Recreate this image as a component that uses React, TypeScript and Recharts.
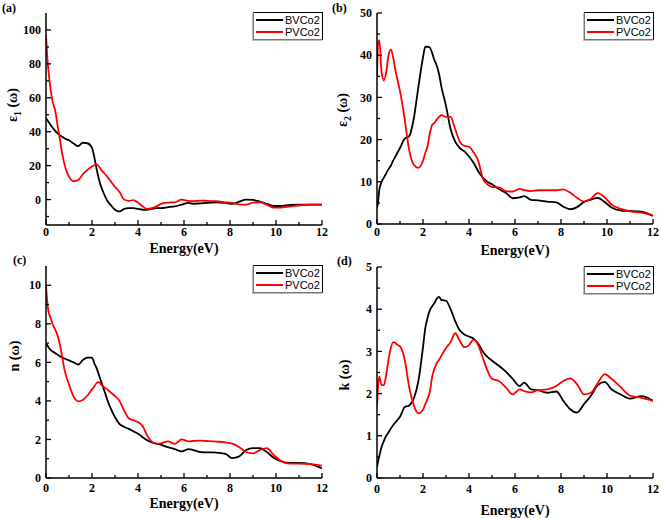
import React from 'react';
import { LineChart, Line, XAxis, YAxis, Legend, Label } from 'recharts';

const energy = [0, 0.05, 0.1, 0.2, 0.3, 0.4, 0.5, 0.6, 0.7, 0.8, 0.9, 1.0, 1.2, 1.4, 1.6, 1.8, 2.0, 2.1, 2.2, 2.3, 2.4, 2.5, 2.6, 2.7, 2.8, 3.0, 3.2, 3.4, 3.6, 3.8, 4.0, 4.2, 4.4, 4.6, 4.8, 5.0, 5.3, 5.6, 5.9, 6.2, 6.4, 6.7, 7.0, 7.4, 7.8, 8.1, 8.4, 8.7, 9.0, 9.3, 9.6, 9.9, 10.2, 10.6, 11.0, 11.5, 12.0];

const eps1BVCo2 = [48, 47, 46, 44, 42.2, 40.5, 39, 38, 37, 36.2, 35.5, 35, 33, 31.5, 33.5, 33.2, 30.5, 25, 18, 12, 7.5, 4, 1, -1.5, -3, -6, -7, -5.5, -5, -5, -5.5, -6, -6, -5.5, -5, -5, -4.5, -4, -3, -2, -2.5, -2.2, -2, -1.6, -2, -2.6, -1.2, 0, -0.2, -1.2, -2.5, -3.8, -3.8, -3.2, -3, -3, -3];
const eps1PVCo2 = [97, 85, 77, 65, 57, 52.5, 44, 36, 27.5, 21, 16.5, 13.5, 10.8, 11.5, 14.8, 17.5, 19.5, 20.2, 20.7, 19.5, 17.5, 16, 14.5, 12.8, 11, 7.5, 4.5, 0, -0.8, -0.3, -1.8, -4, -5.5, -5, -4, -2.5, -1.8, -1.6, 0, -0.8, -1, -0.6, -0.8, -1, -1.6, -2, -2.8, -3, -1.8, -1.6, -3, -4.8, -4.8, -4, -3.5, -3, -3];

const eps2BVCo2 = [3.7, 5.5, 8, 10, 11, 12, 13, 13.8, 15, 16, 17, 18, 20.2, 20.8, 25, 32.5, 39.5, 42, 42, 41.8, 40.5, 38.8, 37.5, 35.5, 32.5, 28, 22.5, 19.5, 18, 17.2, 16, 14.5, 12.5, 11, 10, 9.4, 8.3, 7.4, 6.1, 6.3, 6.6, 5.7, 5.6, 5.3, 5.1, 4.1, 3.5, 4.0, 5.2, 5.8, 6.2, 5.2, 3.9, 3.2, 3.1, 2.9, 1.9];
const eps2PVCo2 = [35, 43, 43.5, 36, 34, 36, 40, 41.4, 39.5, 36.5, 34, 31.5, 25, 17.5, 14, 13.3, 15, 16.8, 18.5, 21.5, 23.5, 24, 24.8, 25.4, 25.8, 25.4, 25.4, 22.5, 19.5, 18.5, 18.3, 17, 15, 10.8, 9.4, 8.8, 8.7, 7.8, 7.7, 8.3, 8.0, 7.8, 8.0, 8.0, 8.0, 8.2, 7.4, 6.2, 5.3, 6.0, 7.3, 6.3, 4.6, 3.6, 3.0, 2.7, 2.1];

const nBVCo2 = [6.97, 6.9, 6.8, 6.65, 6.55, 6.48, 6.4, 6.32, 6.25, 6.2, 6.15, 6.1, 6.0, 5.88, 6.12, 6.25, 6.25, 5.95, 5.7, 5.35, 5.0, 4.65, 4.3, 3.95, 3.65, 3.15, 2.8, 2.65, 2.55, 2.42, 2.3, 2.12, 1.96, 1.85, 1.78, 1.72, 1.6, 1.5, 1.38, 1.5, 1.45, 1.35, 1.33, 1.32, 1.25, 1.03, 1.12, 1.45, 1.55, 1.55, 1.35, 1.05, 0.88, 0.78, 0.78, 0.72, 0.5];
const nPVCo2 = [10, 9.2, 8.7, 8.3, 7.95, 7.7, 7.4, 6.95, 6.3, 5.65, 5.2, 4.85, 4.22, 3.98, 4.05, 4.28, 4.6, 4.75, 4.92, 4.97, 4.85, 4.74, 4.65, 4.55, 4.45, 4.25, 4.0, 3.5, 3.1, 3.0, 2.9, 2.7, 2.2, 1.88, 1.78, 1.8, 1.9, 1.77, 2.0, 1.9, 1.92, 1.94, 1.92, 1.89, 1.85, 1.78, 1.6, 1.35, 1.28, 1.45, 1.55, 1.2, 0.9, 0.75, 0.75, 0.72, 0.64];

const kBVCo2 = [0.25, 0.4, 0.52, 0.74, 0.88, 1.0, 1.08, 1.17, 1.25, 1.32, 1.38, 1.45, 1.68, 1.72, 1.88, 2.3, 3.1, 3.55, 3.8, 3.98, 4.07, 4.15, 4.25, 4.29, 4.22, 4.2, 4.0, 3.72, 3.5, 3.4, 3.35, 3.3, 3.18, 3.0, 2.87, 2.78, 2.66, 2.52, 2.35, 2.18, 2.26, 2.1, 2.08, 2.02, 2.05, 1.83, 1.63, 1.55, 1.75, 1.95, 2.2, 2.28, 2.1, 1.98, 1.88, 1.94, 1.83];
const kPVCo2 = [1.71, 2.2, 2.4, 2.2, 2.2, 2.45, 2.8, 3.08, 3.22, 3.2, 3.15, 3.12, 2.82, 2.15, 1.72, 1.53, 1.62, 1.75, 1.88, 2.05, 2.4, 2.6, 2.72, 2.8, 2.9, 3.08, 3.22, 3.43, 3.25, 3.1, 3.15, 3.28, 3.15, 2.85, 2.55, 2.35, 2.3, 2.15, 1.98, 2.1, 2.06, 2.03, 2.08, 2.1, 2.18, 2.3, 2.36, 2.22, 1.98, 2.02, 2.25, 2.46, 2.35, 2.15, 1.95, 1.9, 1.83];

const seriesNames = ['BVCo2', 'PVCo2'];
const seriesColors = ['#000000', '#ff0000'];

const energyTicks = [0, 1, 2, 3, 4, 5, 6, 7, 8, 9, 10, 11, 12];
const energyLabels = [0, 2, 4, 6, 8, 10, 12];
const eps1Ticks = [-10, 0, 10, 20, 30, 40, 50, 60, 70, 80, 90, 100];
const eps1Labels = [0, 20, 40, 60, 80, 100];
const eps2Ticks = [0, 5, 10, 15, 20, 25, 30, 35, 40, 45, 50];
const eps2Labels = [0, 10, 20, 30, 40, 50];
const nTicks = [0, 1, 2, 3, 4, 5, 6, 7, 8, 9, 10];
const nLabels = [0, 2, 4, 6, 8, 10];
const kTicks = [0, 0.5, 1, 1.5, 2, 2.5, 3, 3.5, 4, 4.5, 5];
const kLabels = [0, 1, 2, 3, 4, 5];

const SERIF = "'Liberation Serif', 'Times New Roman', serif";
const SANS = "'Liberation Sans', Arial, sans-serif";

const isIn = (arr: number[], v: number) => arr.some((a) => Math.abs(a - v) < 1e-9);

const makeRows = (b: number[], p: number[]) =>
  energy.map((e, i) => ({ e, b: b[i], p: p[i] }));

type Panel = {
  tag: string;
  left: number;
  top: number;
  w: number;
  h: number;
  rows: { e: number; b: number; p: number }[];
  yDomain: [number, number];
  yTicks: number[];
  yLabels: number[];
  yTitle: React.ReactNode;
  plotL: number;
  plotT: number;
  plotB: number;
  xGap: number;
  yTitleX: number;
  yTitleY: number;
  xTitleY: number;
  tagX: number;
  tagY: number;
};

const sub = (main: string, s: string) => (
  <>
    <tspan>{main}</tspan>
    <tspan dy={4} fontSize={10}>{s}</tspan>
    <tspan dy={-4}>{' (\u03c9)'}</tspan>
  </>
);

const panels: Panel[] = [
  {
    tag: '(a)', left: 0, top: 0, w: 330, h: 259,
    rows: makeRows(eps1BVCo2, eps1PVCo2), yDomain: [-15, 110], yTicks: eps1Ticks, yLabels: eps1Labels,
    yTitle: sub('\u03b5', '1'),
    plotL: 46, plotT: 13, plotB: 225, xGap: 2, yTitleX: 17, yTitleY: 105, xTitleY: 253, tagX: 2, tagY: 13,
  },
  {
    tag: '(b)', left: 330, top: 0, w: 331, h: 259,
    rows: makeRows(eps2BVCo2, eps2PVCo2), yDomain: [0, 50], yTicks: eps2Ticks, yLabels: eps2Labels,
    yTitle: sub('\u03b5', '2'),
    plotL: 47, plotT: 13, plotB: 224, xGap: 3, yTitleX: 17, yTitleY: 110, xTitleY: 255, tagX: 2, tagY: 13,
  },
  {
    tag: '(c)', left: 0, top: 259, w: 330, h: 259,
    rows: makeRows(nBVCo2, nPVCo2), yDomain: [0, 11], yTicks: nTicks, yLabels: nLabels,
    yTitle: <tspan>{'n (\u03c9)'}</tspan>,
    plotL: 46, plotT: 7, plotB: 219, xGap: 5, yTitleX: 19, yTitleY: 97, xTitleY: 249, tagX: 13, tagY: 6,
  },
  {
    tag: '(d)', left: 330, top: 259, w: 331, h: 259,
    rows: makeRows(kBVCo2, kPVCo2), yDomain: [0, 5], yTicks: kTicks, yLabels: kLabels,
    yTitle: <tspan>{'k (\u03c9)'}</tspan>,
    plotL: 47, plotT: 8, plotB: 219, xGap: 6, yTitleX: 19, yTitleY: 116, xTitleY: 256, tagX: 7, tagY: 7,
  },
];

const XTick = (props: any) => {
  const { x, y, payload, gap } = props;
  const v = payload.value;
  const major = isIn(energyLabels, v);
  return (
    <g>
      <line x1={x} x2={x} y1={y} y2={y - (major ? 5 : 3)} stroke="#000" strokeWidth={1.3} />
      {major && (
        <text x={x} y={y + gap} dy="0.71em" textAnchor="middle" fontFamily={SERIF} fontWeight="bold" fontSize={12} fill="#000">
          {v}
        </text>
      )}
    </g>
  );
};

const YTick = (props: any) => {
  const { x, y, payload, labels } = props;
  const v = payload.value;
  const major = isIn(labels, v);
  return (
    <g>
      <line x1={x} x2={x + (major ? 5 : 3)} y1={y} y2={y} stroke="#000" strokeWidth={1.3} />
      {major && (
        <text x={x - 5} y={y} dy="0.35em" textAnchor="end" fontFamily={SERIF} fontWeight="bold" fontSize={12} fill="#000">
          {v}
        </text>
      )}
    </g>
  );
};

const LegendBox = (props: any) => {
  const payload = (props.payload || []) as any[];
  return (
    <div
      style={{
        width: 70,
        height: 28,
        boxSizing: 'border-box',
        borderTop: '1px solid #000',
        borderRight: '1px solid #000',
        borderLeft: '1px solid #777',
        borderBottom: '1px solid #777',
        boxShadow: '-1px 1px 0 #bbb',
        background: '#fff',
        fontFamily: SANS,
        fontSize: 11,
        lineHeight: '11px',
        padding: '1px 0 0 2px',
        color: '#000',
      }}
    >
      {payload.map((p: any) => (
        <div key={p.value} style={{ display: 'flex', alignItems: 'center', height: 12, whiteSpace: 'nowrap' }}>
          <span style={{ display: 'inline-block', width: 27, height: 2, background: p.color, marginRight: 2 }} />
          <span>{p.value}</span>
        </div>
      ))}
    </div>
  );
};

const PanelChart = ({ cfg }: { cfg: Panel }) => {
  const plotR = cfg.w - 8;
  const xAxisH = cfg.h - cfg.plotB;
  const cx = (cfg.plotL + plotR) / 2;
  return (
    <div style={{ position: 'absolute', left: cfg.left, top: cfg.top, width: cfg.w, height: cfg.h }}>
      <LineChart
        width={cfg.w}
        height={cfg.h}
        data={cfg.rows}
        margin={{ top: cfg.plotT, right: 8, bottom: 0, left: 0 }}
      >
        <XAxis
          dataKey="e"
          type="number"
          domain={[0, 12]}
          ticks={energyTicks}
          interval={0}
          allowDataOverflow
          height={xAxisH}
          tickSize={0}
          tickMargin={0}
          tickLine={false}
          axisLine={{ stroke: '#000', strokeWidth: 1.5 }}
          tick={(p: any) => <XTick {...p} gap={cfg.xGap} />}
        >
          <Label
            content={() => (
              <text x={cx} y={cfg.xTitleY} textAnchor="middle" fontFamily={SERIF} fontWeight="bold" fontSize={14} fill="#000">
                Energy(eV)
              </text>
            )}
          />
        </XAxis>
        <XAxis
          xAxisId="top"
          orientation="top"
          type="number"
          domain={[0, 12]}
          height={0}
          tick={false}
          tickLine={false}
          axisLine={{ stroke: '#000', strokeWidth: 1.5 }}
        />
        <YAxis
          type="number"
          domain={cfg.yDomain}
          ticks={cfg.yTicks}
          interval={0}
          allowDataOverflow
          width={cfg.plotL}
          tickSize={0}
          tickMargin={0}
          tickLine={false}
          axisLine={{ stroke: '#000', strokeWidth: 1.5 }}
          tick={(p: any) => <YTick {...p} labels={cfg.yLabels} />}
        >
          <Label
            content={() => (
              <text
                x={cfg.yTitleX}
                y={cfg.yTitleY}
                textAnchor="middle"
                transform={`rotate(-90 ${cfg.yTitleX} ${cfg.yTitleY})`}
                fontFamily={SERIF}
                fontWeight="bold"
                fontSize={14}
                fill="#000"
              >
                {cfg.yTitle}
              </text>
            )}
          />
        </YAxis>
        <YAxis
          yAxisId="right"
          orientation="right"
          type="number"
          domain={cfg.yDomain}
          width={0}
          tick={false}
          tickLine={false}
          axisLine={{ stroke: '#000', strokeWidth: 1.5 }}
        />
        <Legend
          layout="horizontal"
          verticalAlign="middle"
          align="center"
          content={(p: any) => <LegendBox {...p} />}
          wrapperStyle={{ position: 'absolute', top: cfg.plotT - 1, left: plotR - 70 + 1, width: 70, height: 28 }}
        />
        <Line
          dataKey="b"
          name={seriesNames[0]}
          stroke={seriesColors[0]}
          strokeWidth={1.8}
          type="monotone"
          dot={false}
          activeDot={false}
          isAnimationActive={false}
        />
        <Line
          dataKey="p"
          name={seriesNames[1]}
          stroke={seriesColors[1]}
          strokeWidth={1.8}
          type="monotone"
          dot={false}
          activeDot={false}
          isAnimationActive={false}
        />
      </LineChart>
      <div
        style={{
          position: 'absolute',
          left: cfg.tagX,
          top: cfg.tagY - 11,
          fontFamily: SERIF,
          fontWeight: 'bold',
          fontSize: 12,
          lineHeight: '12px',
          color: '#000',
          whiteSpace: 'nowrap',
        }}
      >
        {cfg.tag}
      </div>
    </div>
  );
};

export default function App() {
  return (
    <div style={{ position: 'absolute', left: 0, top: 0, width: 661, height: 518, background: '#fff', overflow: 'hidden' }}>
      {panels.map((p) => (
        <PanelChart key={p.tag} cfg={p} />
      ))}
    </div>
  );
}
